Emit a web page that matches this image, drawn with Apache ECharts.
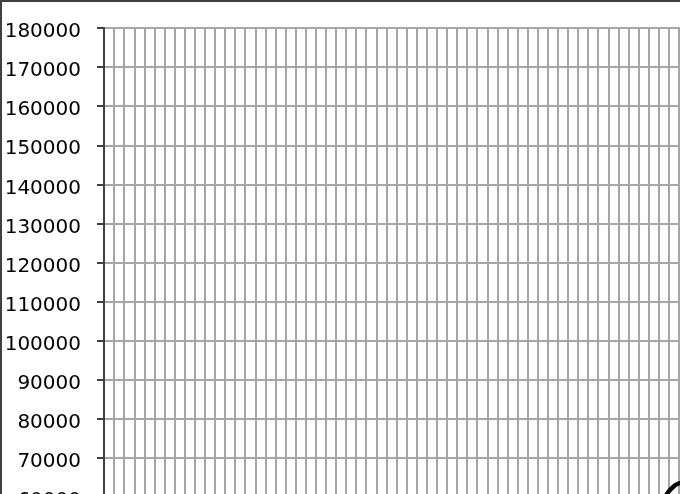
<!DOCTYPE html>
<html>
<head>
<meta charset="utf-8">
<style>
  html, body { margin: 0; padding: 0; background: #fff; }
  #chart { width: 680px; height: 494px; }
</style>
<script src="https://cdn.jsdelivr.net/npm/echarts@6/dist/echarts.min.js"></script>
</head>
<body>
<div id="chart"></div>
<script>
// Category positions (the original's labels are outside the visible crop)
const categories = [];
for (let i = 1; i <= 70; i++) categories.push(String(i));

// Series values: only the rising end near the right edge is visible
const seriesValues = [
  null, null, null, null, null, null, null, null, null, null,
  null, null, null, null, null, null, null, null, null, null,
  null, null, null, null, null, null, null, null, null, null,
  null, null, null, null, null, null, null, null, null, null,
  null, null, null, null, null, null, null, null, null, null,
  null, null, null, null, 55000, 59500, 62800, 63800, 64000, null,
  null, null, null, null, null, null, null, null, null, null
];

// Y tick labels
const yMin = 50000;
const yMax = 180000;
const yStep = 10000;

const chart = echarts.init(document.getElementById('chart'));
chart.setOption({
  animation: false,
  backgroundColor: '#ffffff',
  grid: { left: 104, top: 28, width: 706, height: 508.2, containLabel: false, outerBoundsMode: 'none' },
  xAxis: {
    type: 'category',
    data: categories,
    boundaryGap: true,
    axisLine: { show: false },
    axisTick: { show: false },
    axisLabel: { show: false },
    splitLine: { show: true, interval: 0, lineStyle: { color: '#a6a6a6', width: 2 } }
  },
  yAxis: {
    type: 'value',
    min: yMin,
    max: yMax,
    interval: yStep,
    axisLine: { show: true, lineStyle: { color: '#404040', width: 2 } },
    axisTick: { show: true, length: 7, lineStyle: { color: '#404040', width: 2 } },
    axisLabel: {
      color: '#000',
      fontSize: 20,
      fontFamily: 'DejaVu Sans',
      margin: 23,
      verticalAlign: 'top',
      lineHeight: 8,
      formatter: function (v) { return String(v); }
    },
    splitLine: { show: true, lineStyle: { color: '#a6a6a6', width: 2 } }
  },
  series: [{
    type: 'line',
    data: seriesValues,
    smooth: true,
    symbol: 'none',
    clip: false,
    lineStyle: { color: '#000', width: 4.5 }
  }],
  graphic: [
    { type: 'line', shape: { x1: 0, y1: 1, x2: 680, y2: 1 }, style: { stroke: '#404040', lineWidth: 2 } },
    { type: 'line', shape: { x1: 1, y1: 0, x2: 1, y2: 494 }, style: { stroke: '#404040', lineWidth: 2 } }
  ]
});
</script>
</body>
</html>
